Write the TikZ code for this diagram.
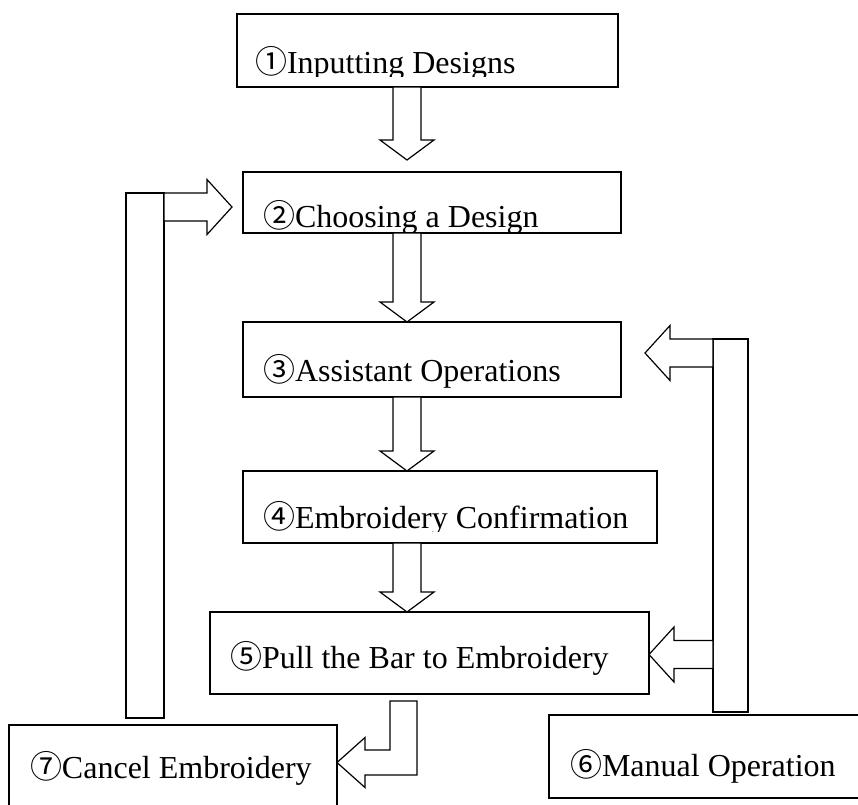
\documentclass[tikz,border=0pt]{standalone}
\usepackage{fontspec}
\setmainfont{Liberation Serif}
\newfontfamily\cjk{Noto Sans CJK SC}
\usetikzlibrary{calc}
\tikzset{
  box/.style={draw, line width=1.2pt, inner sep=0pt, outer sep=0pt, anchor=north west},
  lbl/.style={inner sep=0pt, outer sep=0pt, anchor=base west, font=\fontsize{32}{38}\selectfont},
  blk/.style={draw, line width=1.2pt, fill=white, line join=miter},
}
\newcommand\blkdown[2]{\draw[blk] let \p1=(#1), \p2=(#2) in
  (\x1-14pt,\y1) -- (\x1+14pt,\y1) -- (\x1+14pt,\y2+20pt) -- (\x1+27pt,\y2+20pt)
  -- (\x1,\y2) -- (\x1-27pt,\y2+20pt) -- (\x1-14pt,\y2+20pt) -- cycle;}
\newcommand\blkright[2]{\draw[blk] let \p1=(#1), \p2=(#2) in
  (\x1,\y1+14pt) -- (\x2-25pt,\y1+14pt) -- (\x2-25pt,\y1+27.5pt) -- (\x2,\y1)
  -- (\x2-25pt,\y1-27.5pt) -- (\x2-25pt,\y1-14pt) -- (\x1,\y1-14pt) -- cycle;}
\newcommand\blkleft[2]{\draw[blk] let \p1=(#1), \p2=(#2) in
  (\x1,\y1+14pt) -- (\x2+25pt,\y1+14pt) -- (\x2+25pt,\y1+27.5pt) -- (\x2,\y1)
  -- (\x2+25pt,\y1-27.5pt) -- (\x2+25pt,\y1-14pt) -- (\x1,\y1-14pt) -- cycle;}
\newcommand\blkhook[2]{\draw[blk] let \p1=(#1), \p2=(#2) in
  (\x1-13.5pt,\y1) -- (\x1+13.5pt,\y1) -- (\x1+13.5pt,\y2-12.5pt) -- (\x2+28pt,\y2-12.5pt)
  -- (\x2+28pt,\y2-25pt) -- (\x2,\y2) -- (\x2+28pt,\y2+25pt) -- (\x2+28pt,\y2+12.5pt)
  -- (\x1-13.5pt,\y2+12.5pt) -- cycle;}
\begin{document}
\begin{tikzpicture}[x=1pt,y=-1pt]
\clip (0,0) rectangle (858,804);
\fill[white] (0,0) rectangle (858,804);

% boxes
\node[box, minimum width=381pt, minimum height=73pt] (b1) at (237,14) {};
\node[box, minimum width=378pt, minimum height=61pt] (b2) at (243,172) {};
\node[box, minimum width=378pt, minimum height=75pt] (b3) at (243,322) {};
\node[box, minimum width=414pt, minimum height=72pt] (b4) at (243,471) {};
\node[box, minimum width=439pt, minimum height=82pt] (b5) at (210,612) {};
\node[box, minimum width=330pt, minimum height=83pt] (b6) at (549,715) {};
\node[box, minimum width=328pt, minimum height=100pt] (b7) at (9,725) {};
\node[box, minimum width=38pt, minimum height=525pt] (lbar) at (126,193) {};
\node[box, minimum width=35pt, minimum height=373pt] (rbar) at (713,339) {};

% texts
\begin{scope}
\clip (237,14) rectangle (618,76);
\node[lbl] (t1) at (255,73) {{\cjk ①}Inputting Designs};
\end{scope}
\begin{scope}
\clip (243,172) rectangle (621,231);
\node[lbl] (t2) at (263,227) {{\cjk ②}Choosing a Design};
\end{scope}
\node[lbl] (t3) at (263,381) {{\cjk ③}Assistant Operations};
\begin{scope}
\clip (243,471) rectangle (657,531);
\node[lbl] (t4) at (263,528) {{\cjk ④}Embroidery Confirmation};
\end{scope}
\node[lbl] (t5) at (230,668) {{\cjk ⑤}Pull the Bar to Embroidery};
\node[lbl] (t6) at (570,776) {{\cjk ⑥}Manual Operation};
\node[lbl] (t7) at (30,778) {{\cjk ⑦}Cancel Embroidery};

% block arrows
\coordinate (cx) at (407,0);
\coordinate (tip12) at (407,160);
\blkdown{b1.south -| cx}{tip12}
\blkdown{b2.south -| cx}{b3.north -| cx}
\blkdown{b3.south -| cx}{b4.north -| cx}
\blkdown{b4.south -| cx}{b5.north -| cx}

\coordinate (tip2) at (232,207);
\blkright{lbar.east |- tip2}{tip2}
\coordinate (tip3) at (645,353);
\blkleft{rbar.west |- tip3}{tip3}
\coordinate (y5) at (0,654.5);
\blkleft{rbar.west |- y5}{b5.east |- y5}

\coordinate (hk) at (403.5,701);
\coordinate (hy) at (0,762.5);
\blkhook{hk}{b7.east |- hy}
\end{tikzpicture}
\end{document}
